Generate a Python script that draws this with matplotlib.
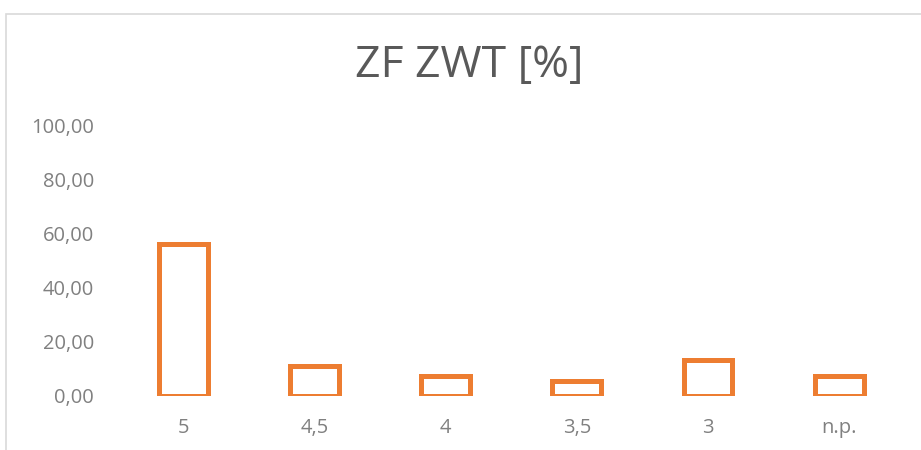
import matplotlib
matplotlib.use('Agg')
import matplotlib.pyplot as plt
from matplotlib.patches import Rectangle
from matplotlib.ticker import FuncFormatter

# values in %
categories = ['5', '4,5', '4', '3,5', '3', 'n.p.']
values = [56.4, 11.1, 7.4, 5.6, 13.2, 7.4]
yticks = [0, 20, 40, 60, 80, 100]

orange = '#ED7D31'
text_grey = '#808080'
title_grey = '#595959'

plt.rcParams['font.family'] = ['Open Sans', 'DejaVu Sans']

fig = plt.figure(figsize=(9.21, 4.5), dpi=100)
ax = fig.add_axes([0.1275, 0.1204, 0.855, 0.60])

x = range(len(categories))
ax.bar(x, values, width=0.373, facecolor='white', edgecolor=orange,
       linewidth=3.6, joinstyle='miter')

ax.set_xlim(-0.5, len(categories) - 0.5)
ax.set_ylim(0, 100)
ax.set_yticks(yticks)
ax.yaxis.set_major_formatter(FuncFormatter(lambda v, p: f'{v:.2f}'.replace('.', ',')))
ax.set_xticks(list(x))
ax.set_xticklabels(categories)
ax.tick_params(axis='both', length=0, labelsize=14.5, colors=text_grey)
ax.tick_params(axis='y', pad=17)
ax.tick_params(axis='x', pad=16)
for s in ax.spines.values():
    s.set_visible(False)

fig.text(0.51, 0.853, 'ZF ZWT [%]', ha='center', va='center',
         fontsize=32, color=title_grey)

# chart border (cropped at right/bottom)
fig.patches.append(Rectangle((6 / 921, -0.1), 1.1, 1.1 - 14 / 450,
                             transform=fig.transFigure, fill=False,
                             edgecolor='#d9d9d9', linewidth=1.2))

fig.savefig('out.png', dpi=100)
